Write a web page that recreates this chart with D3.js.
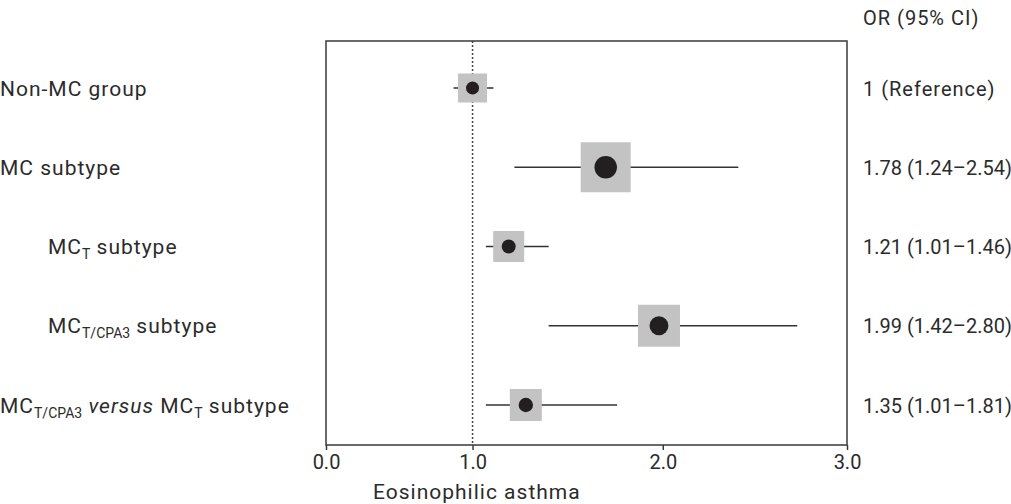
<!DOCTYPE html>
<html>
<head>
<meta charset="utf-8">
<script src="https://cdn.jsdelivr.net/npm/d3@7"></script>
<style>
  body { margin: 0; background: #fff; }
  text { font-family: Roboto, "Noto Sans", sans-serif; fill: #2b2b2b; }
  .wide { letter-spacing: 1px; }
</style>
</head>
<body>
<script>
// rows, top to bottom
var labels = [
    [{t: "Non-MC group"}],
    [{t: "MC subtype"}],
    [{t: "MC"}, {t: "T", sub: true}, {t: " subtype"}],
    [{t: "MC"}, {t: "T/CPA3", sub: true}, {t: " subtype"}],
    [{t: "MC"}, {t: "T/CPA3", sub: true}, {t: " "}, {t: "versus", it: true}, {t: " MC"}, {t: "T", sub: true}, {t: " subtype"}]
];
var level = [0, 0, 1, 1, 0];
var or = [1.00, 1.70, 1.19, 1.98, 1.28];
var lo = [0.87, 1.22, 1.07, 1.40, 1.07];
var hi = [1.11, 2.41, 1.40, 2.73, 1.76];
var weight = [0.58, 1.00, 0.62, 0.84, 0.64];
var orText = ["1 (Reference)", "1.78 (1.24\u20132.54)", "1.21 (1.01\u20131.46)", "1.99 (1.42\u20132.80)", "1.35 (1.01\u20131.81)"];
var ticks = [0, 1, 2, 3];
var xTitle = "Eosinophilic asthma";
var colTitle = "OR (95% CI)";

var rows = labels.map(function (l, i) {
    return {i: i, label: l, level: level[i], or: or[i], lo: lo[i], hi: hi[i], w: weight[i], txt: orText[i]};
});

var svg = d3.select("body")
    .append("svg")
    .attr("width", "1011")
    .attr("height", "504")
    .style('display', 'block');
margin = {top: 41, right: 164, bottom: 59, left: 326};
width = +svg.attr("width") - margin.left - margin.right;
height = +svg.attr("height") - margin.top - margin.bottom;
var g = svg.append("g").attr("transform", "translate(" + margin.left + "," + margin.top + ")");

// the original axis is not evenly spaced, so map each tick on its own
var x = d3.scaleLinear()
    .domain(ticks)
    .range([0, width * 0.2813, width * 0.6464, width]);

var y = d3.scalePoint()
    .domain(rows.map(function (d) { return d.i; }))
    .range([47, height - 40]);

var box = d3.scaleLinear().domain([0, 1]).range([0, 50]);

// frame
g.append("rect")
    .attr("width", width)
    .attr("height", height)
    .attr("fill", "none")
    .attr("stroke", "#3a3a3a")
    .attr("stroke-width", 1.5);

var xAxis = d3.axisBottom(x)
    .tickValues(ticks)
    .tickSize(5)
    .tickPadding(5)
    .tickFormat(d3.format(".1f"));

g.append("g")
    .attr("transform", "translate(0," + height + ")")
    .call(function (a) {
        a.call(xAxis);
        a.select(".domain").remove();
        a.selectAll("line").attr("stroke", "#3a3a3a").attr("stroke-width", 1.5);
        a.selectAll("text")
            .style("font-family", "Roboto, sans-serif")
            .style("font-size", "20px")
            .attr("fill", "#2b2b2b");
    });

// reference line at OR = 1
g.append("line")
    .attr("x1", x(1)).attr("x2", x(1))
    .attr("y1", 0).attr("y2", height)
    .attr("stroke", "#444")
    .attr("stroke-width", 1.5)
    .attr("stroke-dasharray", "2,2");

var row = g.selectAll(".row")
    .data(rows)
    .enter()
    .append("g")
    .attr("class", "row");

row.append("line")
    .attr("x1", function (d) { return x(d.lo); })
    .attr("x2", function (d) { return x(d.hi); })
    .attr("y1", function (d) { return y(d.i); })
    .attr("y2", function (d) { return y(d.i); })
    .attr("stroke", "#333")
    .attr("stroke-width", 1.6);

row.append("rect")
    .attr("x", function (d) { return x(d.or) - box(d.w) / 2; })
    .attr("y", function (d) { return y(d.i) - box(d.w) / 2; })
    .attr("width", function (d) { return box(d.w); })
    .attr("height", function (d) { return box(d.w); })
    .attr("fill", "#c3c3c3");

row.append("circle")
    .attr("cx", function (d) { return x(d.or); })
    .attr("cy", function (d) { return y(d.i); })
    .attr("r", function (d) { return box(d.w) * 0.225; })
    .attr("fill", "#231f20");

// left labels
var lab = svg.selectAll(".lab")
    .data(rows)
    .enter()
    .append("text")
    .attr("class", "lab wide")
    .attr("x", function (d) { return d.level * 48; })
    .attr("y", function (d) { return margin.top + y(d.i) + 7.5; })
    .style("font-size", "21px");

lab.each(function (d) {
    var t = d3.select(this);
    d.label.forEach(function (p, k) {
        var s = t.append("tspan").text(p.t);
        if (p.sub) s.attr("dy", 5).style("font-size", "14px").style("letter-spacing", "0px");
        else if (k > 0 && d.label[k - 1].sub) s.attr("dy", -5);
        if (p.it) s.style("font-style", "italic");
    });
});

// right column
svg.selectAll(".ortxt")
    .data(rows)
    .enter()
    .append("text")
    .attr("class", function (d, i) { return i == 0 ? "ortxt wide" : "ortxt"; })
    .attr("x", margin.left + width + 16)
    .attr("y", function (d) { return margin.top + y(d.i) + 7.5; })
    .style("font-size", "20px")
    .text(function (d) { return d.txt; });

svg.append("text")
    .attr("class", "wide")
    .attr("x", margin.left + width + 16)
    .attr("y", 25)
    .style("font-size", "20px")
    .text(colTitle);

svg.append("text")
    .attr("class", "wide")
    .attr("x", 373)
    .attr("y", 499)
    .style("font-size", "21px")
    .text(xTitle);
</script>
</body>
</html>
